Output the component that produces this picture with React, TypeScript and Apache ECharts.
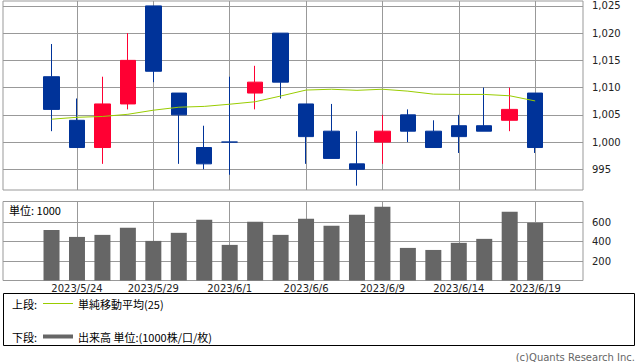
import React, { useEffect, useRef } from 'react';
import * as echarts from 'echarts';

const dates = ['2023/5/23', '2023/5/24', '2023/5/25', '2023/5/26', '2023/5/29', '2023/5/30', '2023/5/31', '2023/6/1', '2023/6/2', '2023/6/5', '2023/6/6', '2023/6/7', '2023/6/8', '2023/6/9', '2023/6/12', '2023/6/13', '2023/6/14', '2023/6/15', '2023/6/16', '2023/6/19'];
const opens = [1012, 1004, 999, 1007, 1025, 1009, 999, 1000, 1009, 1020, 1007, 1002, 996, 1000, 1005, 1002, 1003, 1003, 1004, 1009];
const closes = [1006, 999, 1007, 1015, 1013, 1005, 996, 1000, 1011, 1011, 1001, 997, 995, 1002, 1002, 999, 1001, 1002, 1006, 999];
const lows = [1002, 999, 996, 1006, 1011, 996, 995, 994, 1006, 1008, 996, 997, 992, 996, 1000, 999, 998, 1002, 1002, 998];
const highs = [1018, 1008, 1012, 1020, 1025, 1009, 1003, 1012, 1014, 1020, 1007, 1007, 1002, 1005, 1006, 1004, 1005, 1010, 1010, 1009];
const ma25 = [1004.2, 1004.55, 1004.7, 1005.1, 1005.85, 1006.4, 1006.55, 1006.95, 1007.4, 1008.45, 1009.55, 1009.7, 1009.5, 1009.7, 1009.35, 1008.8, 1008.75, 1008.75, 1008.5, 1007.55];
const volumes = [520, 448, 469, 541, 407, 490, 624, 366, 603, 469, 634, 562, 675, 758, 335, 314, 387, 428, 706, 593];
const priceTicks = [995, 1000, 1005, 1010, 1015, 1020, 1025];
const volumeTicks = [200, 400, 600];
const dateTickIndex = [1, 4, 7, 10, 13, 16, 19];

const RED = '#FF0033';
const BLUE = '#003399';
const MA_GREEN = '#99CC00';
const VOL_GRAY = '#666666';
const GRID = '#999999';
const LABEL_FONT = 'DejaVu Sans';
const JP_FONT = '"Noto Sans CJK JP", "Noto Sans", sans-serif';

const X_MIN = -1.906;
const X_MAX = 20.88;

function fmtNum(v: number): string {
  const n = Math.round(v);
  if (n >= 1000) return `${Math.floor(n / 1000)},${String(n % 1000).padStart(3, '0')}`;
  return String(n);
}

export default function App() {
  const ref = useRef<HTMLDivElement>(null);
  useEffect(() => {
    if (!ref.current) return;
    const chart = echarts.init(ref.current, undefined, { renderer: 'svg' });
    const xAxisBase = (grid: number, showLabel: boolean) => ({
      gridIndex: grid,
      type: 'value',
      min: X_MIN,
      max: X_MAX,
      axisLine: { show: false },
      axisTick: { show: false, customValues: dateTickIndex },
      axisLabel: {
        show: showLabel,
        customValues: dateTickIndex,
        formatter: (v: number) => dates[Math.round(v)] ?? '',
        fontFamily: LABEL_FONT,
        fontSize: 10,
        color: '#222',
        margin: 3,
      },
      splitLine: { show: true, lineStyle: { color: GRID, width: 1 } },
    });
    chart.setOption({
      animation: false,
      backgroundColor: '#fff',
      grid: [
        { left: 3, top: 1, width: 580, height: 189, show: true, borderColor: GRID, borderWidth: 1, backgroundColor: '#fff' },
        { left: 3, top: 201.5, width: 580, height: 79, show: true, borderColor: GRID, borderWidth: 1, backgroundColor: '#fff' },
      ],
      xAxis: [xAxisBase(0, false), xAxisBase(1, true)],
      yAxis: [
        {
          gridIndex: 0,
          type: 'value',
          position: 'right',
          min: 991.2,
          max: 1025.9,
          axisLine: { show: false },
          axisTick: { show: true, length: 4, inside: false, customValues: priceTicks, lineStyle: { color: GRID } },
          axisLabel: { customValues: priceTicks, formatter: fmtNum, fontFamily: LABEL_FONT, fontSize: 10, color: '#222', margin: 9 },
          splitLine: { show: true, lineStyle: { color: GRID, width: 1 } },
        },
        {
          gridIndex: 1,
          type: 'value',
          position: 'right',
          min: 0,
          max: 812,
          axisLine: { show: false },
          axisTick: { show: true, length: 4, inside: false, customValues: volumeTicks, lineStyle: { color: GRID } },
          axisLabel: { customValues: volumeTicks, formatter: fmtNum, fontFamily: LABEL_FONT, fontSize: 10, color: '#222', margin: 9 },
          splitLine: { show: true, lineStyle: { color: GRID, width: 1 } },
        },
      ],
      series: [
        {
          type: 'candlestick',
          xAxisIndex: 0,
          yAxisIndex: 0,
          barWidth: 16,
          data: dates.map((_, i) => [i, opens[i], closes[i], lows[i], highs[i]]),
          itemStyle: {
            color: RED,
            color0: BLUE,
            borderColor: RED,
            borderColor0: BLUE,
            borderColorDoji: BLUE,
            borderWidth: 1,
          },
        },
        {
          type: 'line',
          xAxisIndex: 0,
          yAxisIndex: 0,
          symbol: 'none',
          data: dates.map((_, i) => [i, ma25[i]]),
          lineStyle: { color: MA_GREEN, width: 1 },
          z: 3,
        },
        {
          type: 'bar',
          xAxisIndex: 1,
          yAxisIndex: 1,
          barWidth: 16,
          data: dates.map((_, i) => [i, volumes[i]]),
          itemStyle: { color: VOL_GRAY },
        },
      ],
      graphic: [
        { type: 'text', x: 9, y: 209.5, z: 10, style: { text: '単位: 1000', fill: '#000', fontSize: 11, fontFamily: JP_FONT, verticalAlign: 'middle' } },
        { type: 'rect', shape: { x: 3.5, y: 293.5, width: 631, height: 52 }, style: { fill: '#fff', stroke: '#000', lineWidth: 1 } },
        { type: 'text', x: 12, y: 303.5, z: 10, style: { text: '上段:', fill: '#000', fontSize: 11, fontFamily: JP_FONT, verticalAlign: 'middle' } },
        { type: 'line', z: 10, shape: { x1: 43, y1: 303.5, x2: 73, y2: 303.5 }, style: { stroke: MA_GREEN, lineWidth: 1 } },
        { type: 'text', x: 78, y: 303.5, z: 10, style: { text: '単純移動平均(25)', fill: '#000', fontSize: 11, fontFamily: JP_FONT, verticalAlign: 'middle' } },
        { type: 'text', x: 12, y: 336.5, z: 10, style: { text: '下段:', fill: '#000', fontSize: 11, fontFamily: JP_FONT, verticalAlign: 'middle' } },
        { type: 'line', z: 10, shape: { x1: 43, y1: 336.5, x2: 73, y2: 336.5 }, style: { stroke: VOL_GRAY, lineWidth: 4 } },
        { type: 'text', x: 78, y: 336.5, z: 10, style: { text: '出来高 単位:(1000株/口/枚)', fill: '#000', fontSize: 11, fontFamily: JP_FONT, verticalAlign: 'middle' } },
        { type: 'text', x: 635, y: 357.5, z: 10, style: { text: '(c)Quants Research Inc.', fill: '#666', fontSize: 10, fontFamily: LABEL_FONT, align: 'right', verticalAlign: 'middle' } },
      ],
    });
    return () => chart.dispose();
  }, []);
  return (
    <div
      ref={ref}
      style={{ position: 'fixed', left: 0, top: 0, width: 638, height: 362, background: '#fff' }}
    />
  );
}
